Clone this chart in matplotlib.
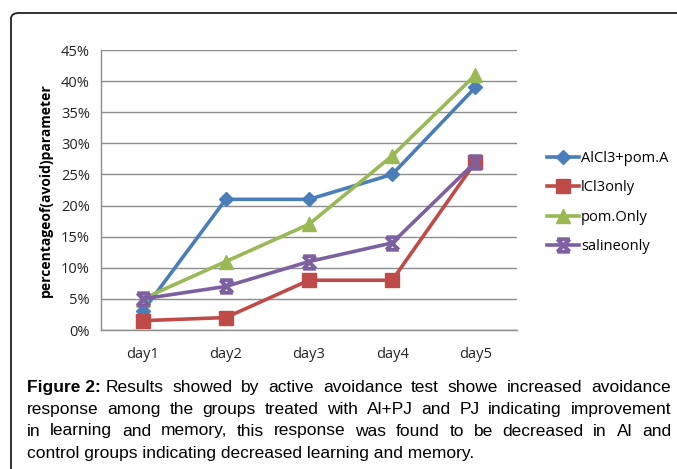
import matplotlib
matplotlib.use("Agg")
import matplotlib.pyplot as plt
import numpy as np
from matplotlib.path import Path
from matplotlib.patches import FancyBboxPatch

days = ["day1", "day2", "day3", "day4", "day5"]
alcl3_pom = [3, 21, 21, 25, 39]
lcl3_only = [1.5, 2, 8, 8, 27]
pom_only = [5, 11, 17, 28, 41]
saline_only = [5, 7, 11, 14, 27]
series_names = ["AlCl3+pom.A", "lCl3only", "pom.Only", "salineonly"]
yticks = [0, 5, 10, 15, 20, 25, 30, 35, 40, 45]

caption_lines = [
    "Results showed by active avoidance test showe increased avoidance",
    "response among the groups treated with Al+PJ and PJ indicating improvement",
    "in learning and memory, this response was found to be decreased in Al and",
    "control groups indicating decreased learning and memory.",
]

W, H = 677, 469
fig = plt.figure(figsize=(W / 100, H / 100), dpi=100)

# frame around the figure (rounded corner at top left, runs off right/bottom)
box = FancyBboxPatch((11 / W, -0.1), 1.2, (H - 13) / H + 0.1,
                     boxstyle="round,pad=0,rounding_size=0.012",
                     transform=fig.transFigure, fill=False,
                     edgecolor="#222222", linewidth=1.3)
fig.patches.append(box)

ax = fig.add_axes([101 / W, 1 - 330 / H, (517 - 101) / W, (330 - 50) / H])

x = np.arange(len(days))
hourglass = Path([(-1, 1), (1, 1), (-1, -1), (1, -1), (-1, 1), (1, -1), (1, 1), (-1, -1)],
                 [Path.MOVETO, Path.LINETO, Path.MOVETO, Path.LINETO,
                  Path.MOVETO, Path.LINETO, Path.MOVETO, Path.LINETO])

ax.plot(x, alcl3_pom, color="#4a7ebb", lw=2.6, marker="D", ms=7, label=series_names[0])
ax.plot(x, lcl3_only, color="#be4b48", lw=2.6, marker="s", ms=10, label=series_names[1])
ax.plot(x, pom_only, color="#98b954", lw=2.6, marker="^", ms=10, label=series_names[2])
ax.plot(x, saline_only, color="#7d60a0", lw=2.6, marker=hourglass, ms=9, mew=2.8,
        label=series_names[3])

ax.set_xlim(-0.5, len(days) - 0.5)
ax.set_ylim(0, 45)
ax.set_yticks(yticks)
ax.set_yticklabels([f"{v}%" for v in yticks])
ax.set_xticks(x)
ax.set_xticklabels(days)
ax.tick_params(length=0, labelsize=10.5, pad=8)
for lab in ax.get_xticklabels() + ax.get_yticklabels():
    lab.set_family(["Open Sans", "DejaVu Sans"])
    lab.set_color("#222222")
ax.tick_params(axis="x", pad=12)
ax.grid(axis="y", color="#8c8c8c", lw=1)
ax.set_axisbelow(True)
for s in ["top", "right"]:
    ax.spines[s].set_visible(False)
for s in ["left", "bottom"]:
    ax.spines[s].set_color("#8c8c8c")
    ax.spines[s].set_linewidth(1)

ax.set_ylabel("percentageof(avoid)parameter", fontsize=10, fontweight="bold",
              family=["Open Sans", "DejaVu Sans"], labelpad=6)

leg = ax.legend(loc="center left", bbox_to_anchor=(1.04, 0.455), frameon=False,
                prop={"family": ["Open Sans", "DejaVu Sans"], "size": 10.5},
                handlelength=2.2, handletextpad=0.15, labelspacing=1.0)

# caption, justified line by line
cap_font = ["Liberation Sans Narrow", "Liberation Sans", "DejaVu Sans"]
fs = 12.5
left_px, right_px = 27, 671
line_y = [387, 409, 431, 453]
renderer = fig.canvas.get_renderer()

def width_px(s, weight="normal"):
    t = fig.text(0, 0, s, fontsize=fs, family=cap_font, fontweight=weight)
    w = t.get_window_extent(renderer).width
    t.remove()
    return w

for i, line in enumerate(caption_lines):
    y = 1 - line_y[i] / H
    words = line.split(" ")
    start = left_px
    if i == 0:
        fig.text(left_px / W, y, "Figure 2:", fontsize=fs, family=cap_font,
                 fontweight="bold", va="center")
        start = left_px + width_px("Figure 2:", "bold") + width_px(" ")
    if i < len(caption_lines) - 1:
        widths = [width_px(w) for w in words]
        gap = (right_px - start - sum(widths)) / (len(words) - 1)
        pos = start
        for w, wd in zip(words, widths):
            fig.text(pos / W, y, w, fontsize=fs, family=cap_font, va="center")
            pos += wd + gap
    else:
        fig.text(start / W, y, line, fontsize=fs, family=cap_font, va="center")

fig.savefig("out.png", dpi=100)
